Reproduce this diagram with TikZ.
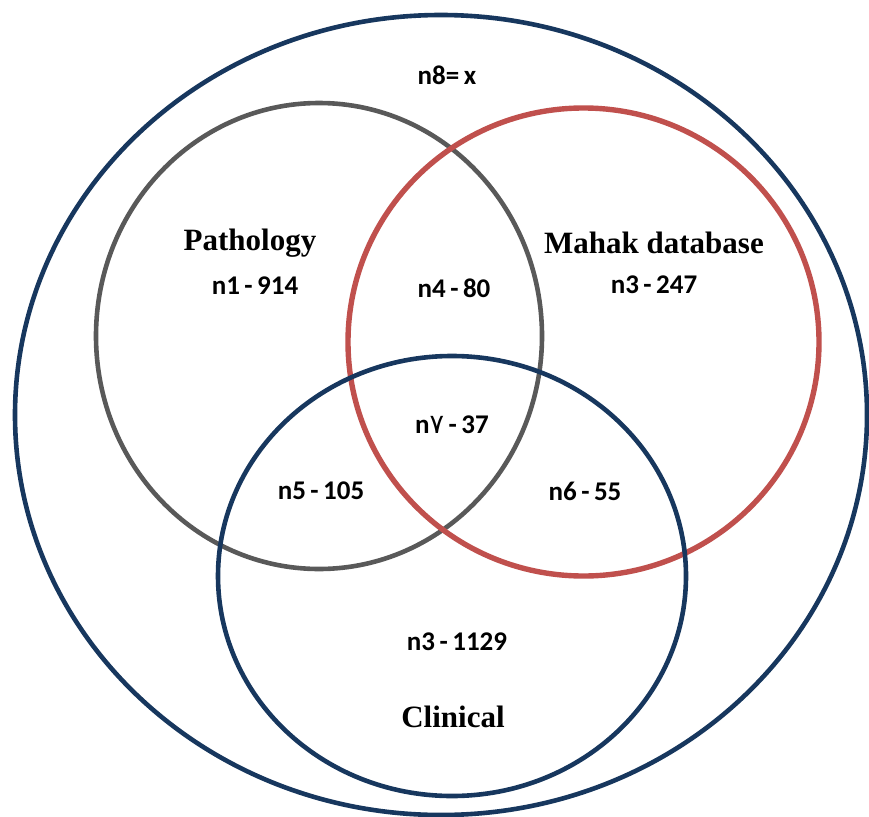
\documentclass[tikz,border=0pt]{standalone}
\usepackage{fontspec}
\setmainfont{Liberation Serif}
\newfontfamily\countfont{Carlito}
\newfontfamily\farsifont{DejaVu Sans}
\usetikzlibrary{shapes.geometric,positioning}
\definecolor{navy}{HTML}{17375E}
\definecolor{slate}{HTML}{595959}
\definecolor{brick}{HTML}{C0504D}
\tikzset{
    setring/.style={ellipse,line width=4.6pt,inner sep=0pt,outer sep=0pt},
    title/.style={inner sep=0pt,font=\fontsize{31}{33}\selectfont\bfseries},
    count/.style={inner sep=0pt,font=\countfont\fontsize{27}{29}\selectfont\bfseries}
}

\begin{document}
\begin{tikzpicture}[x=1pt,y=-1pt]

    \useasboundingbox (0,0) rectangle (869,816);

    % the four sets
    \node[setring,draw=navy,minimum width=852pt,minimum height=800pt]                (universe)  at (441,415)   {};
    \node[setring,draw=slate,minimum width=446pt,minimum height=466pt]               (pathology) at (319,336)   {};
    \node[setring,draw=brick,line width=5.4pt,minimum width=471pt,minimum height=468pt] (mahak)  at (583.5,342) {};
    \node[setring,draw=navy,minimum width=468pt,minimum height=440pt]                (clinical)  at (452,576)   {};

    % names
    \node[title] (pathname)  at (250,243) {Pathology};
    \node[title] (mahakname) at (654,243) {Mahak database};
    \node[title] (clinname)  at (453,717) {Clinical};

    % counts
    \node[count] (nout)  at (447,75)                              {n8=\,x};
    \node[count] (none)  [below=19pt of pathname,xshift=5pt]      {n1\,-\,914};
    \node[count] (nthree)[below=21pt of mahakname]                {n3\,-\,247};
    \node[count] (nfour) at (454,288)                             {n4\,-\,80};
    \node[count] (nseven)at (452,425)                             {n{\farsifont\mdseries ۷}\,-\,37};
    \node[count] (nfive) at (321,491)                             {n5\,-\,105};
    \node[count] (nsix)  at (585,491)                             {n6\,-\,55};
    \node[count] (nclin) [above=55pt of clinname,xshift=4pt]      {n3\,-\,1129};

\end{tikzpicture}
\end{document}
